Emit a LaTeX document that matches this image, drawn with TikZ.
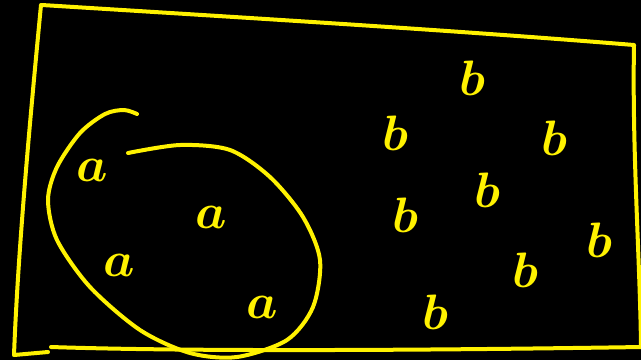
\documentclass[tikz,border=0pt]{standalone}
\usepackage{tikz}
\definecolor{penyellow}{RGB}{255,242,0}
\tikzset{
  pen/.style={draw=penyellow,line width=2pt,line cap=round,line join=round},
  letter/.style={text=penyellow,inner sep=0pt,font=\fontsize{37}{37}\selectfont\boldmath}
}
\begin{document}
\begin{tikzpicture}[x=0.5pt,y=-0.5pt]
            \fill[black] (0,0) rectangle (641,360);
            \useasboundingbox (0,0) rectangle (641,360);
            % the box
            \draw[pen] (42,5) .. controls (250,18) and (450,30) .. (634,45)
                (634,45) .. controls (632,150) and (640,260) .. (641,347);
            \draw[pen] (41,5) .. controls (30,120) and (18,250) .. (14,355)
                (14,355) -- (48,352);
            \draw[pen] (51,347) .. controls (200,352) and (450,350) .. (641,347);
            % the loop round the a's
            \draw[pen,smooth] plot coordinates {(128,153) (180,145) (230,150)
                (270,177) (303,217) (320,260) (313,307) (287,340) (237,357)
                (190,353) (140,330) (90,287) (57,240) (48,200) (57,167)
                (80,133) (105,114) (124,110) (137,114)};
            % the a's
            \foreach \n/\x/\y in {1/92/170, 2/211/217, 3/119/265, 4/262/307}
                \node[letter] (a\n) at (\x,\y) {$a$};
            % the b's
            \foreach \n/\x/\y in {1/472/78, 2/395/133, 3/554/138, 4/487/190,
                5/405/215, 6/525/270, 7/599/240, 8/435/312}
                \node[letter] (b\n) at (\x,\y) {$b$};
        \end{tikzpicture}
\end{document}
